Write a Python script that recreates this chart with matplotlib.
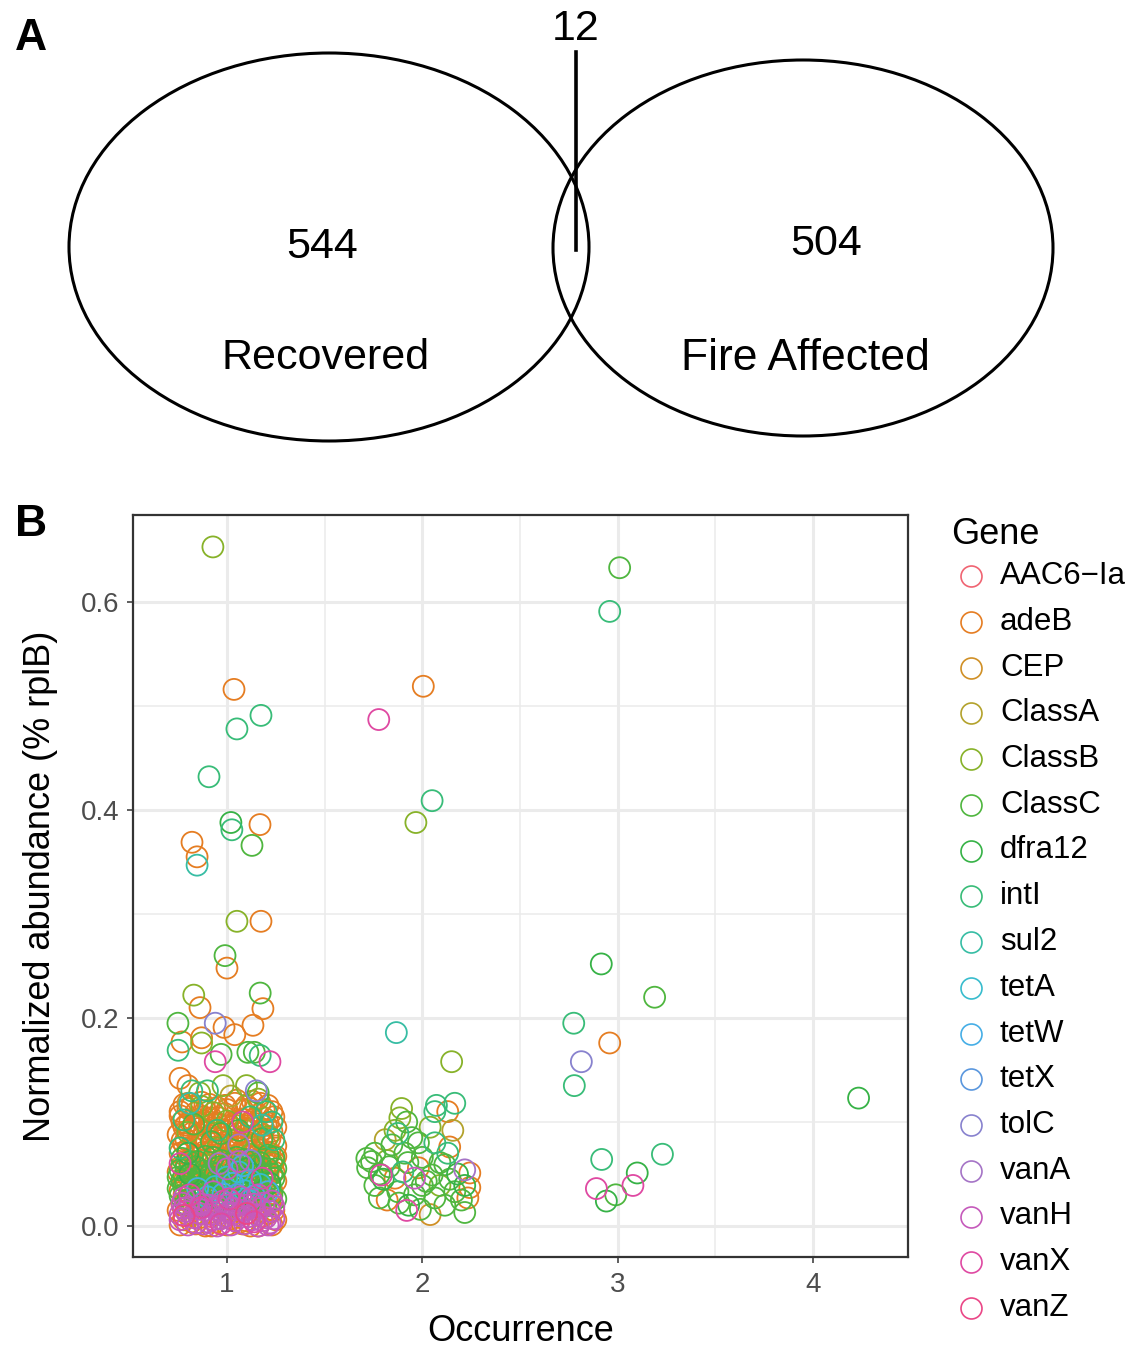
import numpy as np
import matplotlib
matplotlib.use("Agg")
import matplotlib.pyplot as plt
from matplotlib.patches import Ellipse
from matplotlib.lines import Line2D

# ---- panel A data ----
VENN_NAMES = ["Recovered", "Fire Affected"]
VENN_COUNTS = [544, 504]
VENN_SHARED = 12

# ---- panel B data: (jittered occurrence, normalized abundance) per gene ----
GENES = ["AAC6-Ia", "adeB", "CEP", "ClassA", "ClassB", "ClassC", "dfra12", "intI",
         "sul2", "tetA", "tetW", "tetX", "tolC", "vanA", "vanH", "vanX", "vanZ"]
X_TICKS = [1, 2, 3, 4]
Y_TICKS = [0.0, 0.2, 0.4, 0.6]

# colours picked off the legend keys
COLORS = ["#F06472", "#E57D22", "#D09026", "#B3A22C", "#87B229", "#4FB63F", "#36B246",
          "#38BC78", "#37BDA4", "#38BCCD", "#46AEE6", "#5A97DE", "#8882CE", "#A574C6",
          "#C55ABB", "#DF49A2", "#EA4787"]

AAC6_Ia = [(0.92, 0.009), (1.06, 0.003)]

adeB = [(1.036, 0.516), (1.169, 0.386), (0.821, 0.369), (0.847, 0.355), (1.174, 0.293),
        (1.0, 0.248), (1.184, 0.209), (0.862, 0.210), (0.985, 0.191), (1.04, 0.184),
        (1.133, 0.193), (0.77, 0.177), (0.87, 0.181), (0.76, 0.142), (0.80, 0.135),
        (1.13, 0.120), (1.05, 0.121), (0.76, 0.110), (0.88, 0.105), (0.91, 0.100),
        (0.78, 0.117), (0.87, 0.119), (0.95, 0.114), (1.04, 0.118), (1.12, 0.113), (1.21, 0.116),
        (0.76, 0.106), (0.84, 0.109), (0.92, 0.104), (0.99, 0.108), (1.08, 0.103), (1.16, 0.107),
        (1.24, 0.105), (0.79, 0.097), (0.86, 0.094), (0.95, 0.099), (1.02, 0.095), (1.11, 0.098),
        (1.19, 0.093), (0.75, 0.088), (0.83, 0.086), (0.90, 0.090), (0.97, 0.085), (1.06, 0.089),
        (1.14, 0.087), (1.23, 0.091), (0.78, 0.079), (0.85, 0.077), (0.93, 0.081), (1.01, 0.078),
        (1.09, 0.076), (1.18, 0.080), (1.25, 0.077), (0.76, 0.070), (0.84, 0.068), (0.91, 0.072),
        (0.99, 0.069), (1.07, 0.071), (1.15, 0.067), (1.22, 0.070), (0.79, 0.061), (0.87, 0.063),
        (0.95, 0.059), (1.03, 0.062), (1.12, 0.060), (1.20, 0.064), (0.75, 0.052), (0.82, 0.054),
        (0.90, 0.050), (0.98, 0.053), (1.06, 0.051), (1.14, 0.055), (1.24, 0.052), (0.78, 0.043),
        (0.86, 0.045), (0.94, 0.041), (1.02, 0.044), (1.10, 0.042), (1.18, 0.046), (1.25, 0.043),
        (0.76, 0.034), (0.84, 0.036), (0.92, 0.032), (1.00, 0.035), (1.08, 0.033), (1.16, 0.037),
        (1.23, 0.034), (0.79, 0.025), (0.87, 0.027), (0.95, 0.023), (1.03, 0.026), (1.11, 0.024),
        (1.20, 0.028), (0.75, 0.015), (0.83, 0.017), (0.91, 0.013), (0.99, 0.016), (1.07, 0.014),
        (1.15, 0.018), (1.24, 0.015), (0.78, 0.006), (0.86, 0.008), (0.94, 0.004), (1.02, 0.007),
        (1.10, 0.005), (1.18, 0.009), (1.25, 0.006), (0.76, 0.001), (0.84, 0.002), (0.92, 0.000),
        (1.00, 0.001), (1.08, 0.002), (1.16, 0.000), (1.23, 0.001), (0.81, 0.101), (0.89, 0.083),
        (0.97, 0.074), (1.05, 0.057), (1.13, 0.082), (1.21, 0.047), (0.81, 0.058), (1.09, 0.094),
        (0.93, 0.066), (1.17, 0.073),
        (0.80, 0.113), (0.89, 0.111), (0.99, 0.116), (1.08, 0.112), (1.17, 0.118), (1.23, 0.110),
        (0.77, 0.100), (0.88, 0.101), (0.96, 0.104), (1.04, 0.100), (1.13, 0.102), (1.21, 0.099),
        (0.81, 0.092), (0.92, 0.094), (1.00, 0.091), (1.09, 0.087), (1.17, 0.090), (1.25, 0.095),
        (0.79, 0.083), (0.87, 0.080), (0.96, 0.082), (1.05, 0.079), (1.14, 0.078), (1.22, 0.084),
        (0.80, 0.074), (0.88, 0.071), (0.95, 0.068), (1.03, 0.073), (1.11, 0.072), (1.19, 0.069),
        (1.25, 0.067), (0.77, 0.058), (0.85, 0.056), (0.93, 0.055), (1.01, 0.057), (1.09, 0.059),
        (1.17, 0.056), (1.23, 0.060), (0.80, 0.048), (0.88, 0.049), (0.96, 0.046), (1.04, 0.048),
        (1.12, 0.050), (1.21, 0.051), (0.78, 0.030), (0.96, 0.029), (1.14, 0.031), (0.77, 0.020),
        (1.22, 0.022), (0.80, 0.011), (1.21, 0.012), (0.89, 0.000), (1.12, 0.000),
        (0.82, 0.115), (0.91, 0.117), (1.00, 0.112), (1.10, 0.116), (1.19, 0.112),
        (0.78, 0.095), (0.86, 0.098), (0.94, 0.092), (1.04, 0.097), (1.12, 0.092), (1.20, 0.097),
        (0.77, 0.082), (0.86, 0.088), (0.94, 0.076), (1.02, 0.083), (1.10, 0.081), (1.20, 0.077),
        (0.82, 0.066), (0.90, 0.061), (0.98, 0.064), (1.06, 0.068), (1.15, 0.063), (1.24, 0.062),
        (0.84, 0.040), (1.00, 0.040), (1.16, 0.041), (0.86, 0.030), (1.04, 0.031), (1.22, 0.016),
        (0.82, 0.004),
        (2.005, 0.519), (2.13, 0.110), (2.14, 0.076), (2.243, 0.051), (1.98, 0.056), (1.86, 0.046),
        (1.82, 0.025), (2.233, 0.027), (2.243, 0.037),
        (2.959, 0.176)]

CEP = [(0.80, 0.118), (1.19, 0.104), (0.97, 0.062), (1.22, 0.030), (0.83, 0.011), (2.04, 0.011)]

ClassA = [(1.02, 0.125), (0.90, 0.058), (1.15, 0.095), (2.156, 0.092), (1.81, 0.083)]

ClassB = [(0.928, 0.653), (1.051, 0.293), (0.83, 0.222), (0.87, 0.176), (0.86, 0.128),
          (0.98, 0.135), (1.10, 0.135), (0.87, 0.115), (0.93, 0.109), (0.80, 0.090),
          (1.05, 0.083), (1.21, 0.086), (0.95, 0.075), (1.23, 0.061), (0.78, 0.048),
          (1.12, 0.069), (1.00, 0.101), (1.16, 0.122),
          (1.967, 0.388), (2.15, 0.158), (1.894, 0.113), (1.885, 0.104), (2.04, 0.095),
          (1.86, 0.092), (1.82, 0.063), (2.09, 0.039)]

ClassC = [(1.128, 0.366), (0.99, 0.260), (1.17, 0.224), (0.749, 0.195), (1.107, 0.167),
          (1.14, 0.167), (0.97, 0.165), (1.16, 0.128),
          (0.77, 0.065), (0.85, 0.062), (0.93, 0.066), (1.01, 0.060), (1.09, 0.064), (1.17, 0.061),
          (1.24, 0.066), (0.79, 0.056), (0.88, 0.053), (0.96, 0.057), (1.04, 0.054), (1.13, 0.058),
          (1.21, 0.055), (0.75, 0.047), (0.83, 0.045), (0.91, 0.048), (0.99, 0.044), (1.07, 0.047),
          (1.15, 0.043), (1.24, 0.046), (0.78, 0.038), (0.86, 0.036), (0.94, 0.039), (1.02, 0.037),
          (1.11, 0.040), (1.19, 0.036), (0.76, 0.029), (0.84, 0.027), (0.92, 0.030), (1.00, 0.028),
          (1.08, 0.031), (1.16, 0.027), (1.23, 0.030), (0.79, 0.021), (0.87, 0.019), (0.95, 0.022),
          (1.03, 0.020), (1.12, 0.023), (1.20, 0.019), (0.92, 0.081), (1.06, 0.092), (1.18, 0.084),
          (0.83, 0.098), (0.97, 0.089),
          (0.81, 0.062), (0.89, 0.067), (0.97, 0.063), (1.05, 0.066), (1.13, 0.062), (1.21, 0.068),
          (0.76, 0.054), (0.84, 0.057), (0.92, 0.052), (1.00, 0.056), (1.08, 0.052), (1.17, 0.057),
          (1.25, 0.055), (0.79, 0.042), (0.87, 0.048), (0.95, 0.045), (1.03, 0.049), (1.12, 0.046),
          (1.20, 0.042), (0.75, 0.036), (0.82, 0.033), (0.90, 0.038), (0.98, 0.035), (1.06, 0.038),
          (1.14, 0.034), (1.22, 0.037), (0.80, 0.025), (0.88, 0.023), (0.96, 0.026), (1.04, 0.024),
          (1.13, 0.028), (1.25, 0.026),
          (0.77, 0.044), (0.86, 0.041), (0.94, 0.050), (1.02, 0.046), (1.10, 0.048), (1.18, 0.050),
          (0.81, 0.035), (0.93, 0.027), (1.01, 0.033), (1.09, 0.025), (1.18, 0.031), (1.23, 0.050),
          (1.946, 0.085), (1.98, 0.080), (1.757, 0.070), (1.74, 0.062), (1.72, 0.056), (1.91, 0.070),
          (2.0, 0.066), (2.115, 0.059), (2.05, 0.049), (1.757, 0.039), (1.78, 0.027), (2.217, 0.013),
          (2.166, 0.033), (1.96, 0.030), (2.0, 0.039), (2.064, 0.027), (1.875, 0.033), (2.115, 0.020),
          (1.716, 0.065), (1.844, 0.078), (1.926, 0.061), (1.78, 0.050), (1.83, 0.057), (2.02, 0.043),
          (2.09, 0.061), (2.20, 0.025), (1.88, 0.022), (2.14, 0.045), (1.99, 0.016), (1.92, 0.100),
          (3.010, 0.633), (3.189, 0.220), (2.99, 0.030)]

dfra12 = [(1.02, 0.388), (0.81, 0.050), (0.97, 0.043), (1.13, 0.050), (0.89, 0.033),
          (1.05, 0.025), (1.22, 0.041), (0.80, 0.070), (1.10, 0.055),
          (2.217, 0.039), (1.80, 0.045), (1.93, 0.020), (2.18, 0.050),
          (2.916, 0.252), (3.10, 0.051), (2.942, 0.024), (4.233, 0.123)]

intI = [(1.051, 0.478), (1.174, 0.491), (0.908, 0.432), (1.025, 0.381), (0.75, 0.169),
        (1.17, 0.164), (0.82, 0.130), (0.90, 0.130), (1.20, 0.110), (1.23, 0.100),
        (0.78, 0.102), (1.12, 0.105), (0.76, 0.075), (1.24, 0.083), (0.95, 0.092),
        (2.05, 0.409), (2.072, 0.116), (2.166, 0.118), (2.064, 0.110), (1.875, 0.089),
        (2.064, 0.080), (2.13, 0.070), (1.90, 0.052),
        (2.959, 0.591), (2.775, 0.195), (2.778, 0.135), (2.918, 0.064), (3.229, 0.069)]

sul2 = [(0.847, 0.347), (0.81, 0.118), (1.18, 0.097), (1.867, 0.186)]

tetA = [(1.00, 0.047), (1.06, 0.052), (1.12, 0.044), (0.94, 0.038), (1.09, 0.034),
        (1.17, 0.040), (0.90, 0.028)]
tetW = [(1.03, 0.041), (1.14, 0.029), (0.98, 0.031), (1.08, 0.058), (0.85, 0.036), (1.21, 0.033)]
tetX = [(1.05, 0.030)]

tolC = [(0.94, 0.195), (1.15, 0.130), (1.12, 0.063), (2.814, 0.158)]
vanA = [(0.96, 0.060), (1.06, 0.078), (2.217, 0.054)]

vanH = [(0.77, 0.022), (0.84, 0.025), (0.91, 0.020), (0.98, 0.024), (1.05, 0.021), (1.12, 0.026),
        (1.19, 0.022), (1.24, 0.019), (0.79, 0.014), (0.86, 0.012), (0.94, 0.016), (1.01, 0.013),
        (1.08, 0.015), (1.15, 0.011), (1.22, 0.014), (0.76, 0.006), (0.83, 0.008), (0.90, 0.004),
        (0.97, 0.007), (1.04, 0.005), (1.11, 0.009), (1.18, 0.005), (1.24, 0.007), (0.80, 0.001),
        (0.88, 0.002), (0.95, 0.000), (1.02, 0.001), (1.09, 0.002), (1.16, 0.000), (1.21, 0.001),
        (1.00, 0.055), (1.06, 0.062), (0.93, 0.033),
        (0.80, 0.018), (0.87, 0.021), (0.95, 0.019), (1.03, 0.017), (1.10, 0.020), (1.17, 0.017),
        (1.23, 0.024), (0.76, 0.011), (0.84, 0.003), (0.92, 0.011), (0.99, 0.009), (1.06, 0.010),
        (1.13, 0.006), (1.20, 0.008), (0.78, 0.027), (1.16, 0.030), (1.07, 0.028),
        (0.78, 0.017), (0.86, 0.016), (0.93, 0.006), (1.00, 0.020), (1.14, 0.021), (1.22, 0.003),
        (1.04, 0.012),
        (1.96, 0.046)]

vanX = [(0.94, 0.158), (1.22, 0.158), (1.08, 0.100), (0.76, 0.060), (1.01, 0.026),
        (0.87, 0.018), (1.14, 0.004), (0.81, 0.030), (1.18, 0.046), (0.97, 0.002),
        (1.777, 0.487), (1.79, 0.049), (1.92, 0.015), (3.078, 0.039), (2.891, 0.036)]

vanZ = [(1.10, 0.012), (0.78, 0.010)]

GENE_POINTS = [AAC6_Ia, adeB, CEP, ClassA, ClassB, ClassC, dfra12, intI, sul2,
               tetA, tetW, tetX, tolC, vanA, vanH, vanX, vanZ]

W, H = 1132, 1346
fig = plt.figure(figsize=(W / 100, H / 100), dpi=100)

venn_font = ["Liberation Sans Narrow", "Liberation Sans", "DejaVu Sans"]
sans = ["Liberation Sans", "DejaVu Sans"]

# ---------------- panel A ----------------
axA = fig.add_axes([0, 1 - 460 / H, 1, 460 / H])
axA.set_xlim(0, W)
axA.set_ylim(460, 0)
axA.axis("off")
axA.add_patch(Ellipse((329, 247), 520, 388, fill=False, lw=2.2, ec="black"))
axA.add_patch(Ellipse((803, 248), 500, 376, fill=False, lw=2.2, ec="black"))
axA.plot([576, 576], [52, 250], color="black", lw=2.6)
axA.text(576, 29, str(VENN_SHARED), ha="center", va="center", fontsize=31, family=venn_font)
axA.text(322, 247, str(VENN_COUNTS[0]), ha="center", va="center", fontsize=31, family=venn_font)
axA.text(826, 244, str(VENN_COUNTS[1]), ha="center", va="center", fontsize=31, family=venn_font)
axA.text(326, 358, VENN_NAMES[0], ha="center", va="center", fontsize=31, family=venn_font)
axA.text(805, 358, VENN_NAMES[1], ha="center", va="center", fontsize=32, family=venn_font)

fig.text(15 / W, 1 - 38 / H, "A", fontsize=32, fontweight="bold", family=sans, va="center")
fig.text(15 / W, 1 - 525 / H, "B", fontsize=32, fontweight="bold", family=sans, va="center")

# ---------------- panel B ----------------
ax = fig.add_axes([133 / W, 1 - 1257 / H, (908 - 133) / W, (1257 - 515) / H])
ax.set_xlim(0.519, 4.486)
ax.set_ylim(-0.0298, 0.6837)
ax.set_xticks(X_TICKS)
ax.set_xticklabels([str(t) for t in X_TICKS])
ax.set_yticks(Y_TICKS)
ax.set_yticklabels([f"{t:.1f}" for t in Y_TICKS])
ax.set_xticks([1.5, 2.5, 3.5], minor=True)
ax.set_yticks([0.1, 0.3, 0.5], minor=True)
ax.grid(True, which="major", color="#EBEBEB", lw=2.2)
ax.grid(True, which="minor", color="#EBEBEB", lw=1.1)
ax.set_axisbelow(True)
ax.tick_params(which="minor", length=0)
ax.tick_params(which="major", length=4, width=1.1, color="#333333",
               labelsize=20, labelcolor="#4D4D4D")
ax.tick_params(axis="x", which="major", pad=7)
ax.tick_params(axis="y", which="major", pad=6)
for lab in ax.get_xticklabels() + ax.get_yticklabels():
    lab.set_family(sans)
for sp in ax.spines.values():
    sp.set_color("#333333")
    sp.set_linewidth(1.6)

for pts, col in zip(GENE_POINTS, COLORS):
    arr = np.array(pts)
    ax.scatter(arr[:, 0], arr[:, 1], s=228, facecolors="none", edgecolors=col,
               linewidths=1.3, zorder=3)

ax.set_xlabel("Occurrence", fontsize=26, family=sans, labelpad=11)
ax.set_ylabel("Normalized abundance (% rplB)", fontsize=26, family=sans, labelpad=16)

# legend
fig.text(951 / W, 1 - 535 / H, "Gene", fontsize=26, family=sans, va="center", ha="left")
for i, (g, col) in enumerate(zip(GENES, COLORS)):
    y = 1 - (576 + i * 45.75) / H
    fig.add_artist(Line2D([971 / W], [y], marker="o", markersize=15.1, mfc="none",
                          mec=col, mew=1.2, transform=fig.transFigure))
    fig.text(1000 / W, y, g.replace("-", "\u2212"), fontsize=22.5, family=sans,
             va="center", ha="left")

fig.savefig("out.png", dpi=100)
